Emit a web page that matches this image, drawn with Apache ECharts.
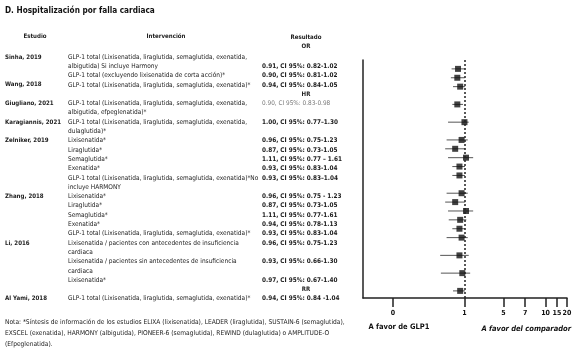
<!DOCTYPE html>
<html><head><meta charset="utf-8">
<script src="https://cdn.jsdelivr.net/npm/echarts@6/dist/echarts.min.js"></script>
<style>html,body{margin:0;padding:0;background:#fff}#c{width:577px;height:349px}</style>
</head><body><div id="c"></div>
<script>
// ---------------- data ----------------
const title = 'D. Hospitalización por falla cardiaca';
const headers = ['Estudio', 'Intervención', 'Resultado'];
const studies = ['Sinha, 2019', '', 'Wang, 2018', 'Giugliano, 2021', 'Karagiannis, 2021',
  'Zelniker, 2019', '', '', '', '', 'Zhang, 2018', '', '', '', '', 'Li, 2016', '', '', 'Al Yami, 2018'];
const interventions = [
  ['GLP-1 total (Lixisenatida, liraglutida, semaglutida, exenatida,', 'albigutida) Si incluye Harmony'],
  ['GLP-1 total (excluyendo lixisenatida de corta acción)*'],
  ['GLP-1 total (Lixisenatida, liraglutida, semaglutida, exenatida)*'],
  ['GLP-1 total (Lixisenatida, liraglutida, semaglutida, exenatida,', 'albigutida, efpeglenatida)*'],
  ['GLP-1 total (Lixisenatida, liraglutida, semaglutida, exenatida,', 'dulaglutida)*'],
  ['Lixisenatida*'], ['Liraglutida*'], ['Semaglutida*'], ['Exenatida*'],
  ['GLP-1 total (Lixisenatida, liraglutida, semaglutida, exenatida)*No', 'incluye HARMONY'],
  ['Lixisenatida*'], ['Liraglutida*'], ['Semaglutida*'], ['Exenatida*'],
  ['GLP-1 total (Lixisenatida, liraglutida, semaglutida, exenatida)*'],
  ['Lixisenatida / pacientes con antecedentes de insuficiencia', 'cardiaca'],
  ['Lixisenatida / pacientes sin antecedentes de insuficiencia', 'cardiaca'],
  ['Lixisenatida*'],
  ['GLP-1 total (Lixisenatida, liraglutida, semaglutida, exenatida)*']
];
const estimates = [0.91, 0.90, 0.94, 0.90, 1.00, 0.96, 0.87, 1.11, 0.93, 0.93, 0.96, 0.87, 1.11, 0.94, 0.93, 0.96, 0.93, 0.97, 0.94];
const ciLow  = [0.82, 0.81, 0.84, 0.83, 0.77, 0.75, 0.73, 0.77, 0.83, 0.83, 0.75, 0.73, 0.77, 0.78, 0.83, 0.75, 0.66, 0.67, 0.84];
const ciHigh = [1.02, 1.02, 1.05, 0.98, 1.30, 1.23, 1.05, 1.61, 1.04, 1.04, 1.23, 1.05, 1.61, 1.13, 1.04, 1.23, 1.30, 1.40, 1.04];
const resultTexts = [
  '0.91, CI 95%: 0.82-1.02', '0.90, CI 95%: 0.81-1.02', '0.94, CI 95%: 0.84-1.05',
  '0.90, CI 95%: 0.83-0.98', '1.00, CI 95%: 0.77–1.30',
  '0.96, CI 95%: 0.75-1.23', '0.87, CI 95%: 0.73-1.05', '1.11, CI 95%: 0.77 – 1.61',
  '0.93, CI 95%: 0.83-1.04', '0.93, CI 95%: 0.83–1.04',
  '0.96, CI 95%: 0.75 - 1.23', '0.87, CI 95%: 0.73-1.05', '1.11, CI 95%: 0.77-1.61',
  '0.94, CI 95%: 0.78-1.13', '0.93, CI 95%: 0.83-1.04',
  '0.96, CI 95%: 0.75-1.23', '0.93, CI 95%: 0.66-1.30', '0.97, CI 95%: 0.67-1.40',
  '0.94, CI 95%: 0.84 -1.04'
];
const measureLabels = ['OR', 'HR', 'RR'];
const measureStart = [0, 3, 18];
const tickValues = [0, 1, 5, 7, 10, 15, 20];
const favourLabels = ['A favor de GLP1', 'A favor del comparador'];
const notes = [
  'Nota: *Síntesis de información de los estudios ELIXA (lixisenatida), LEADER (liraglutida), SUSTAIN-6 (semaglutida),',
  'EXSCEL (exenatida), HARMONY (albigutida), PIONEER-6 (semaglutida), REWIND (dulaglutida) o AMPLITUDE-O',
  '(Efpeglenatida).'
];

// ------------- axis scale (piecewise, as drawn in the original) -------------
const SCALE_V = [0, 1, 2, 5, 7, 10, 15, 20];
const SCALE_P = [0, 1, 1.2, 1.547, 1.851, 2.136, 2.296, 2.436];
function P(v) {
  for (let i = 0; i < SCALE_V.length - 1; i++) {
    if (v <= SCALE_V[i + 1]) {
      const t = (v - SCALE_V[i]) / (SCALE_V[i + 1] - SCALE_V[i]);
      return SCALE_P[i] + t * (SCALE_P[i + 1] - SCALE_P[i]);
    }
  }
  return SCALE_P[SCALE_P.length - 1];
}

// ------------- fonts -------------
const FAM = '"Liberation Sans Narrow", "DejaVu Sans Condensed", "Roboto Condensed", Roboto, sans-serif';
const cv = document.createElement('canvas').getContext('2d');
function fit(weight, sample, target) {
  cv.font = weight + ' 20px ' + FAM;
  const w = cv.measureText(sample).width;
  return Math.round(20 * target / w * 10) / 10;
}
const fsBody = fit('normal', interventions[0][0], 178);
const fsRes = fit('bold', resultTexts[0], 76);
const fsTitle = fit('bold', title, 150);
const fsNote = fit('normal', notes[0], 340);
const fsStudy = fit('bold', 'Karagiannis, 2021', 56);

// ------------- layout -------------
const LINE0 = 57, LH = 9.3;
const ly = l => LINE0 + LH * l;
const rowLine = [];
const startLine = [];
const measureLine = [];
let L = 0;
const resultOnLast = new Set([0]);
for (let i = 0; i < interventions.length; i++) {
  const mi = measureStart.indexOf(i);
  if (mi > 0) { measureLine[mi] = L; L++; }
  startLine[i] = L;
  rowLine[i] = resultOnLast.has(i) ? L + interventions[i].length - 1 : L;
  L += interventions[i].length;
}

const graphics = [];
function txt(x, y, s, o) {
  graphics.push({
    type: 'text', x: x, y: y, silent: true,
    style: Object.assign({ text: s, fontFamily: FAM, fontSize: fsBody, fill: '#222',
      textAlign: 'left', textVerticalAlign: 'middle' }, o || {})
  });
}
txt(5, 11, title, { fontWeight: 'bold', fontSize: fsTitle, fill: '#111' });
txt(35, 36, headers[0], { fontWeight: 'bold', fontSize: fsStudy, textAlign: 'center' });
txt(166, 36, headers[1], { fontWeight: 'bold', fontSize: fsStudy, textAlign: 'center' });
txt(306, 37, headers[2], { fontWeight: 'bold', fontSize: fsStudy, textAlign: 'center' });
txt(306, 46, measureLabels[0], { fontWeight: 'bold', fontSize: fsStudy, textAlign: 'center' });
for (let m = 1; m < measureLabels.length; m++) {
  txt(306, ly(measureLine[m]), measureLabels[m], { fontWeight: 'bold', fontSize: fsStudy, textAlign: 'center' });
}
for (let i = 0; i < interventions.length; i++) {
  const start = startLine[i];
  if (studies[i]) txt(5, ly(start), studies[i], { fontWeight: 'bold', fontSize: fsStudy });
  interventions[i].forEach((s, k) => txt(68, ly(start + k), s));
  const gray = i === 3;
  txt(262, ly(rowLine[i]), resultTexts[i], gray
    ? { fontSize: fsRes, fill: '#777' }
    : { fontWeight: 'bold', fontSize: fsRes, fill: '#1a1a1a' });
}
notes.forEach((s, k) => txt(5, 322 + 11 * k, s, { fontSize: fsNote }));

// ------------- chart -------------
const ciData = estimates.map((e, i) => [P(ciLow[i]), P(ciHigh[i]), rowLine[i]]);
const ptData = estimates.map((e, i) => [P(e), rowLine[i]]);
const tickPos = tickValues.map(P);
const PX = 71.3; // px per unit between 0 and 1

const chart = echarts.init(document.getElementById('c'), null, { renderer: 'canvas' });
chart.setOption({
  animation: false,
  backgroundColor: '#fff',
  grid: { left: 363, top: 60, width: 204, height: 238 },
  xAxis: {
    type: 'value', min: -30 / PX, max: P(20),
    splitLine: { show: false },
    axisLine: { show: true, onZero: false, lineStyle: { color: '#222', width: 1.5 } },
    axisTick: { show: true, customValues: tickPos, length: 9, lineStyle: { color: '#222', width: 1.5 } },
    axisLabel: {
      show: true, customValues: tickPos, margin: 12, fontSize: 7, fontWeight: 'bold',
      fontFamily: FAM, color: '#111', hideOverlap: false,
      formatter: v => {
        let best = 0;
        tickPos.forEach((p, i) => { if (Math.abs(p - v) < Math.abs(tickPos[best] - v)) best = i; });
        return String(tickValues[best]);
      }
    }
  },
  yAxis: {
    type: 'value', inverse: true, min: 0, max: 26.8,
    splitLine: { show: false }, axisTick: { show: false }, axisLabel: { show: false },
    axisLine: { show: true, onZero: false, lineStyle: { color: '#222', width: 1.5 } }
  },
  series: [
    {
      type: 'custom', data: ciData, encode: { x: [0, 1], y: 2 }, silent: true,
      renderItem: (params, api) => {
        const a = api.coord([api.value(0), api.value(2)]);
        const b = api.coord([api.value(1), api.value(2)]);
        return { type: 'line', shape: { x1: a[0], y1: a[1], x2: b[0], y2: b[1] },
          style: { stroke: '#555', lineWidth: 1 } };
      }
    },
    {
      type: 'scatter', data: ptData, symbol: 'rect', symbolSize: 6, silent: true,
      itemStyle: { color: '#111' }, z: 3,
      markLine: {
        silent: true, symbol: 'none', label: { show: false },
        lineStyle: { type: [2, 2], color: '#222', width: 1.5 },
        data: [{ xAxis: P(1) }]
      }
    }
  ],
  graphic: graphics.concat([
    { type: 'text', x: 399, y: 327, silent: true, style: { text: favourLabels[0], fontFamily: FAM, fontWeight: 'bold', fontSize: 7.5, fill: '#111', textAlign: 'center', textVerticalAlign: 'middle' } },
    { type: 'text', x: 571, y: 329, silent: true, style: { text: favourLabels[1], fontFamily: FAM, fontWeight: 'bold', fontStyle: 'italic', fontSize: 7.5, fill: '#111', textAlign: 'right', textVerticalAlign: 'middle' } }
  ])
});
</script>
</body></html>
